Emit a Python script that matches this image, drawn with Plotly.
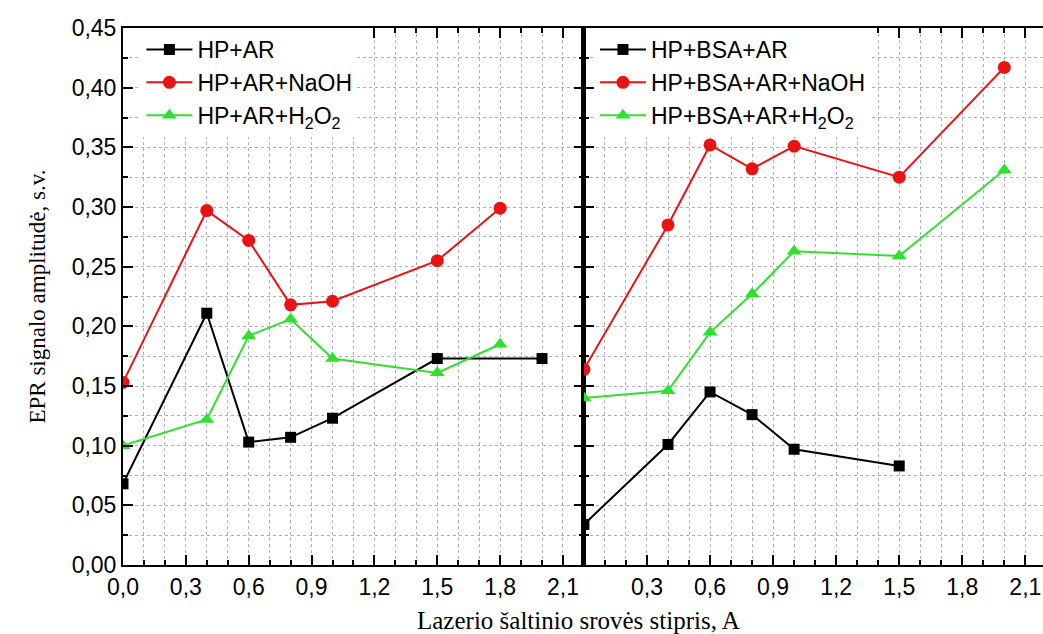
import plotly.graph_objects as go

# ---- data ----
x_left_black = [0.0, 0.4, 0.6, 0.8, 1.0, 1.5, 2.0]
y_left_black = [0.068, 0.211, 0.103, 0.107, 0.123, 0.173, 0.173]
x_left_red = [0.0, 0.4, 0.6, 0.8, 1.0, 1.5, 1.8]
y_left_red = [0.153, 0.297, 0.272, 0.218, 0.221, 0.255, 0.299]
x_left_green = [0.0, 0.4, 0.6, 0.8, 1.0, 1.5, 1.8]
y_left_green = [0.100, 0.122, 0.192, 0.206, 0.173, 0.161, 0.185]

x_right_black = [0.0, 0.4, 0.6, 0.8, 1.0, 1.5]
y_right_black = [0.034, 0.101, 0.145, 0.126, 0.097, 0.083]
x_right_red = [0.0, 0.4, 0.6, 0.8, 1.0, 1.5, 2.0]
y_right_red = [0.164, 0.285, 0.352, 0.332, 0.351, 0.325, 0.417]
x_right_green = [0.0, 0.4, 0.6, 0.8, 1.0, 1.5, 2.0]
y_right_green = [0.140, 0.146, 0.195, 0.227, 0.263, 0.259, 0.331]

left_names = ["HP+AR", "HP+AR+NaOH", "HP+AR+H<sub>2</sub>O<sub>2</sub>"]
right_names = ["HP+BSA+AR", "HP+BSA+AR+NaOH", "HP+BSA+AR+H<sub>2</sub>O<sub>2</sub>"]

x_ticks_left = [0.0, 0.3, 0.6, 0.9, 1.2, 1.5, 1.8, 2.1]
x_ticks_right = [0.3, 0.6, 0.9, 1.2, 1.5, 1.8, 2.1]

BLACK = "#000000"
RED = "#e81414"
GREEN = "#2fe02f"
GRID = "#b0b0b0"
SANS = "Liberation Sans, Arial, sans-serif"
SERIF = "Liberation Serif, Times New Roman, serif"

fig = go.Figure()

def add(x, y, name, color, symbol, size, xa, ya, legend):
    fig.add_trace(go.Scatter(
        x=x, y=y, name=name, mode="lines+markers",
        line=dict(color=color, width=2),
        marker=dict(color=color, symbol=symbol, size=size),
        xaxis=xa, yaxis=ya, legend=legend))

add(x_left_black, y_left_black, left_names[0], BLACK, "square", 11, "x", "y", "legend")
add(x_left_red, y_left_red, left_names[1], RED, "circle", 13, "x", "y", "legend")
add(x_left_green, y_left_green, left_names[2], GREEN, "triangle-up", 13, "x", "y", "legend")
add(x_right_black, y_right_black, right_names[0], BLACK, "square", 11, "x2", "y2", "legend2")
add(x_right_red, y_right_red, right_names[1], RED, "circle", 13, "x2", "y2", "legend2")
add(x_right_green, y_right_green, right_names[2], GREEN, "triangle-up", 13, "x2", "y2", "legend2")

split = 0.501

common_x = dict(
    ticks="inside", ticklen=10, tickwidth=2, tickcolor=BLACK,
    showline=True, linecolor=BLACK, linewidth=2, mirror="allticks",
    showgrid=True, gridcolor=GRID, griddash="dot", gridwidth=1,
    zeroline=False, tickformat=".1f",
    tickfont=dict(family=SANS, size=23, color=BLACK),
    minor=dict(dtick=0.1, tick0=0, ticks="inside", ticklen=5, tickwidth=2,
               tickcolor=BLACK, showgrid=True, gridcolor=GRID, griddash="dot", gridwidth=1),
)
common_y = dict(
    range=[0, 0.45], dtick=0.05, tick0=0,
    ticks="inside", ticklen=10, tickwidth=2, tickcolor=BLACK,
    showline=True, linecolor=BLACK, linewidth=2,
    showgrid=True, gridcolor=GRID, griddash="dot", gridwidth=1,
    zeroline=False, tickformat=".2f",
    minor=dict(dtick=0.025, tick0=0, ticks="inside", ticklen=5, tickwidth=2,
               tickcolor=BLACK, showgrid=True, gridcolor=GRID, griddash="dot", gridwidth=1),
)

legend_common = dict(y=1.0, xanchor="left", yanchor="top",
                     bgcolor="white", borderwidth=0,
                     font=dict(family=SANS, size=23, color=BLACK),
                     itemwidth=46, tracegroupgap=0)

fig.update_layout(
    width=1043, height=634,
    margin=dict(l=123, r=0, t=28, b=69),
    paper_bgcolor="white", plot_bgcolor="white",
    separators=",.",
    xaxis=dict(domain=[0, split], range=[0, 2.2], tickmode="array",
               tickvals=x_ticks_left, anchor="y", **common_x),
    xaxis2=dict(domain=[split, 1], range=[0, 2.184], tickmode="array",
                tickvals=x_ticks_right, anchor="y2", **common_x),
    yaxis=dict(domain=[0, 1], anchor="x", mirror="allticks",
               tickfont=dict(family=SANS, size=23, color=BLACK),
               title=dict(text="EPR signalo amplitudė, s.v.",
                          font=dict(family=SERIF, size=23, color=BLACK), standoff=20),
               **common_y),
    yaxis2=dict(domain=[0, 1], anchor="x2", matches="y", showticklabels=False,
                mirror=False, **common_y),
    legend=dict(x=0.02, **legend_common),
    legend2=dict(x=split + 0.012, **legend_common),
    annotations=[dict(text="Lazerio šaltinio srovės stipris, A",
                      xref="paper", yref="paper", x=0.495, y=0,
                      xanchor="center", yanchor="middle", yshift=-55,
                      showarrow=False,
                      font=dict(family=SERIF, size=25, color=BLACK))],
)

fig.update_yaxes(selector=dict(anchor="x2"), linewidth=3)

fig.write_html("out.html")
